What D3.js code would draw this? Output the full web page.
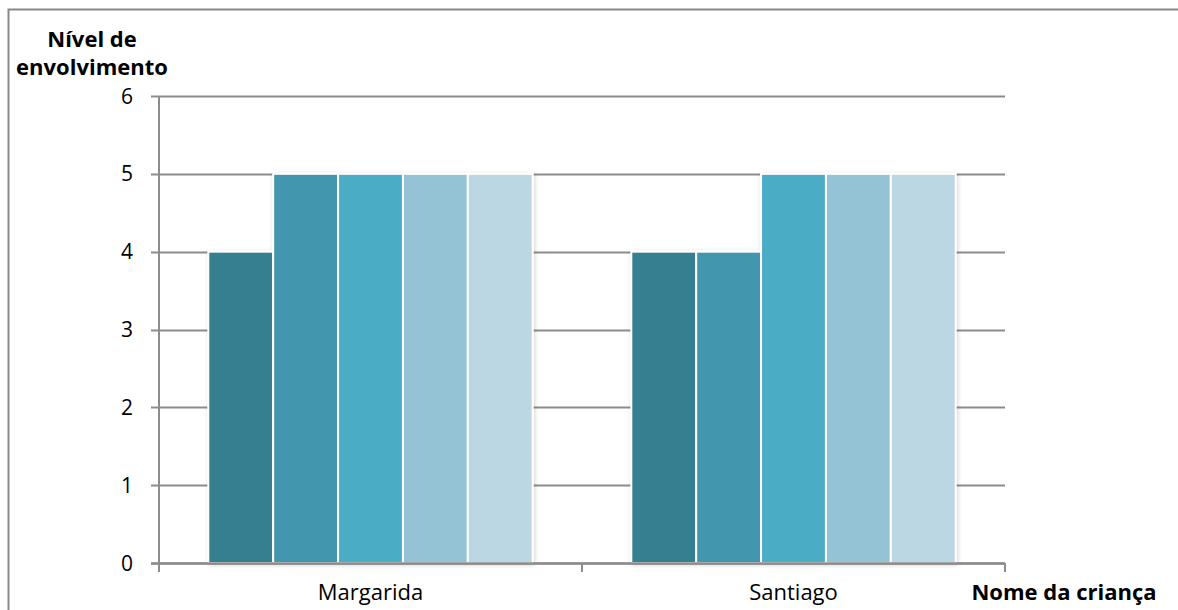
<!DOCTYPE html>
<html><head><meta charset="utf-8">
<script src="https://cdn.jsdelivr.net/npm/d3@7"></script>
<style>
html,body{margin:0;padding:0;background:#fff;}
svg{display:block;font-family:"Open Sans",Lato,sans-serif;}
</style></head>
<body><svg id="c" width="1178" height="610"></svg>
<script>
const categories = ["Margarida", "Santiago"];
const series = ["S1", "S2", "S3", "S4", "S5"];
const values = {
  Margarida: [4, 5, 5, 5, 5],
  Santiago:  [4, 4, 5, 5, 5]
};
const yTicks = [0, 1, 2, 3, 4, 5, 6];
const colors = ["#367F91", "#4397AE", "#4BACC6", "#93C3D4", "#BBD7E3"];
const yTitle = ["Nível de", "envolvimento"];
const xTitle = "Nome da criança";

const svg = d3.select("#c");
const W = 1178, H = 610;
const m = {left: 159, right: 1005, top: 96, bottom: 563};

// chart border
svg.append("path").attr("d", `M8.5,${H+5}V9.5H${W+5}`).attr("fill","none").attr("stroke","#888").attr("stroke-width",2);

const defs = svg.append("defs");
const f = defs.append("filter").attr("id","sh").attr("x","-10%").attr("y","-10%").attr("width","130%").attr("height","130%");
f.append("feDropShadow").attr("dx",1).attr("dy",1).attr("stdDeviation",2).attr("flood-color","#000").attr("flood-opacity",0.18);

const x = d3.scaleBand().domain(categories).range([m.left, m.right]).padding(0);
const xi = d3.scaleBand().domain(series).range([0, x.bandwidth()]).paddingOuter(0.76).paddingInner(0);
const y = d3.scaleLinear().domain([0, 6]).range([m.bottom, m.top]);

// gridlines
svg.append("g").selectAll("line").data(yTicks).join("line")
  .attr("x1", m.left - 8).attr("x2", m.right)
  .attr("y1", d => Math.round(y(d)) + 0.5).attr("y2", d => Math.round(y(d)) + 0.5)
  .attr("stroke", "#8c8c8c").attr("stroke-width", 2);

// y axis line
svg.append("line").attr("x1", m.left).attr("x2", m.left).attr("y1", m.top).attr("y2", m.bottom + 8)
  .attr("stroke", "#8c8c8c").attr("stroke-width", 2);

// bars
const g = svg.append("g").attr("filter","url(#sh)");
categories.forEach(c => {
  g.append("g").selectAll("rect").data(values[c]).join("rect")
    .attr("x", (d, i) => x(c) + xi(series[i]))
    .attr("width", xi.bandwidth())
    .attr("y", d => y(d))
    .attr("height", d => y(0) - y(d))
    .attr("fill", (d, i) => colors[i])
    .attr("stroke", "#fff").attr("stroke-width", 2);
});

// x axis line over bars
svg.append("line").attr("x1", m.left - 8).attr("x2", m.right).attr("y1", y(0) + 0.5).attr("y2", y(0) + 0.5)
  .attr("stroke", "#8c8c8c").attr("stroke-width", 2.5);
// category boundary ticks
const bounds = categories.map(c => x(c)).concat([m.right]);
svg.append("g").selectAll("line").data(bounds).join("line")
  .attr("x1", d => d).attr("x2", d => d).attr("y1", y(0)).attr("y2", y(0) + 9)
  .attr("stroke", "#8c8c8c").attr("stroke-width", 2);

// y tick labels
svg.append("g").selectAll("text").data(yTicks).join("text")
  .attr("x", 133).attr("y", d => y(d)).attr("dy", "0.36em")
  .attr("text-anchor", "end").attr("font-size", 21).attr("fill", "#000").text(d => d);

// category labels
svg.append("g").selectAll("text").data(categories).join("text")
  .attr("x", d => x(d) + x.bandwidth() / 2).attr("y", 600)
  .attr("text-anchor", "middle").attr("font-size", 22).attr("fill", "#000").text(d => d);

// axis titles
svg.append("text").attr("text-anchor", "middle").attr("font-size", 22).attr("font-weight", "bold")
  .selectAll("tspan").data(yTitle).join("tspan").attr("x", 92).attr("y", (d, i) => 47 + i * 28).text(d => d);
svg.append("text").attr("x", 1064).attr("y", 600).attr("text-anchor", "middle")
  .attr("font-size", 22).attr("font-weight", "bold").text(xTitle);
</script></body></html>
